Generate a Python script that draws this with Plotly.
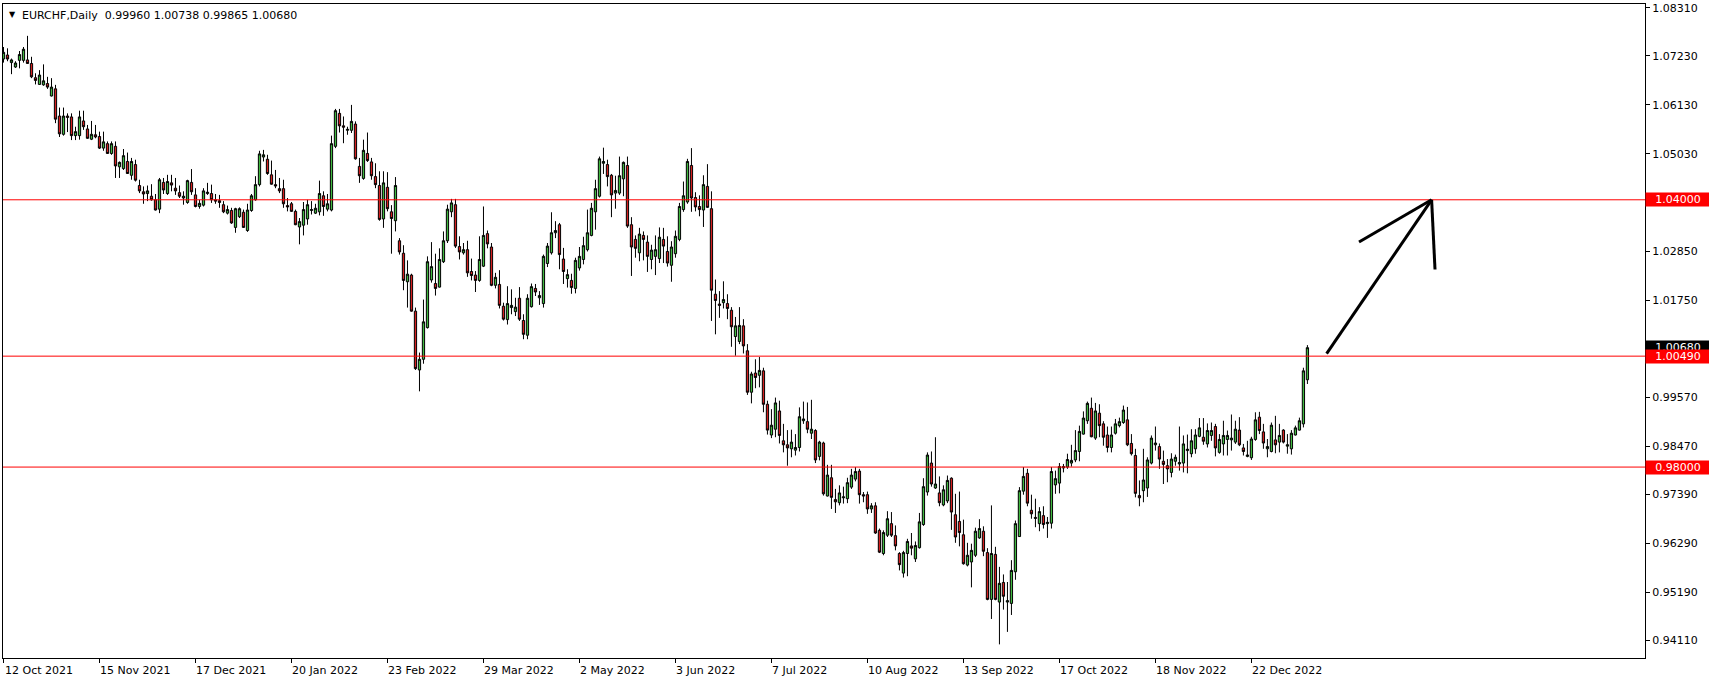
import plotly.graph_objects as go

# ---- data (EURCHF daily, bar index 0..326) ----
opens = [1.0716,1.0725,1.0708,1.0698,1.0713,1.0713,1.0714,1.0706,1.0674,1.0659,1.0658,1.0661,1.0633,1.0649,1.0588,1.0547,1.0588,1.0586,1.0544,1.0544,
1.0577,1.0559,1.0536,1.0546,1.0542,1.0516,1.0526,1.0504,1.0520,1.0474,1.0470,1.0486,1.0455,1.0479,1.0432,1.0418,1.0414,1.0408,1.0400,1.0379,
1.0439,1.0414,1.0438,1.0426,1.0416,1.0404,1.0394,1.0439,1.0411,1.0385,1.0388,1.0414,1.0414,1.0400,1.0398,1.0389,1.0370,1.0376,1.0338,1.0362,
1.0372,1.0331,1.0376,1.0400,1.0434,1.0496,1.0491,1.0456,1.0434,1.0425,1.0425,1.0387,1.0391,1.0374,1.0339,1.0343,1.0357,1.0376,1.0370,1.0373,
1.0409,1.0379,1.0377,1.0520,1.0594,1.0566,1.0556,1.0556,1.0570,1.0475,1.0448,1.0504,1.0485,1.0452,1.0432,1.0357,1.0428,1.0373,1.0353,1.0308,
1.0280,1.0216,1.0231,1.0150,1.0018,1.0042,1.0113,1.0220,1.0212,1.0204,1.0261,1.0308,1.0373,1.0389,1.0295,1.0281,1.0288,1.0239,1.0231,1.0219,
1.0251,1.0324,1.0294,1.0208,1.0210,1.0161,1.0131,1.0158,1.0149,1.0179,1.0129,1.0096,1.0160,1.0201,1.0180,1.0167,1.0257,1.0281,1.0326,1.0344,
1.0267,1.0223,1.0219,1.0201,1.0247,1.0266,1.0288,1.0320,1.0373,1.0408,1.0482,1.0479,1.0455,1.0415,1.0415,1.0447,1.0477,1.0344,1.0311,1.0281,
1.0320,1.0305,1.0266,1.0273,1.0268,1.0311,1.0284,1.0253,1.0279,1.0311,1.0378,1.0395,1.0477,1.0405,1.0385,1.0377,1.0430,1.0380,1.0188,1.0166,
1.0169,1.0167,1.0152,1.0093,1.0082,1.0117,1.0061,0.9968,1.0011,1.0006,1.0016,0.9941,0.9872,0.9885,0.9926,0.9859,0.9850,0.9841,0.9838,0.9844,
0.9904,0.9902,0.9876,0.9882,0.9824,0.9854,0.9735,0.9776,0.9727,0.9720,0.9731,0.9729,0.9755,0.9773,0.9791,0.9738,0.9738,0.9706,0.9713,0.9658,
0.9606,0.9647,0.9673,0.9646,0.9606,0.9562,0.9606,0.9623,0.9594,0.9619,0.9671,0.9744,0.9809,0.9753,0.9742,0.9715,0.9724,0.9775,0.9693,0.9678,
0.9648,0.9580,0.9587,0.9602,0.9641,0.9656,0.9608,0.9503,0.9604,0.9497,0.9541,0.9497,0.9494,0.9565,0.9644,0.9746,0.9786,0.9703,0.9687,0.9673,
0.9691,0.9673,0.9674,0.9760,0.9764,0.9798,0.9800,0.9809,0.9816,0.9835,0.9874,0.9904,0.9932,0.9865,0.9921,0.9897,0.9872,0.9844,0.9876,0.9893,
0.9900,0.9906,0.9853,0.9826,0.9736,0.9747,0.9753,0.9809,0.9850,0.9846,0.9813,0.9803,0.9788,0.9813,0.9807,0.9809,0.9837,0.9830,0.9841,0.9869,
0.9867,0.9852,0.9871,0.9891,0.9833,0.9852,0.9862,0.9861,0.9856,0.9883,0.9843,0.9824,0.9821,0.9862,0.9912,0.9879,0.9841,0.9835,0.9861,0.9856,
0.9883,0.9847,0.9841,0.9872,0.9883,0.9897,0.99960]
highs = [1.0743,1.0740,1.0717,1.0711,1.0734,1.0743,1.0768,1.0721,1.0684,1.0691,1.0704,1.0676,1.0673,1.0658,1.0607,1.0607,1.0594,1.0594,1.0564,1.0600,
1.0600,1.0568,1.0577,1.0568,1.0553,1.0553,1.0531,1.0531,1.0531,1.0486,1.0514,1.0506,1.0494,1.0490,1.0445,1.0430,1.0432,1.0435,1.0413,1.0449,
1.0449,1.0456,1.0456,1.0449,1.0432,1.0419,1.0445,1.0469,1.0426,1.0400,1.0426,1.0438,1.0434,1.0413,1.0411,1.0397,1.0387,1.0382,1.0382,1.0383,
1.0378,1.0391,1.0413,1.0453,1.0510,1.0512,1.0501,1.0488,1.0467,1.0449,1.0445,1.0404,1.0395,1.0378,1.0359,1.0395,1.0400,1.0397,1.0391,1.0443,
1.0419,1.0413,1.0544,1.0604,1.0604,1.0587,1.0564,1.0613,1.0576,1.0494,1.0535,1.0551,1.0494,1.0482,1.0464,1.0464,1.0462,1.0388,1.0451,1.0314,
1.0298,1.0264,1.0234,1.0158,1.0057,1.0176,1.0273,1.0305,1.0279,1.0291,1.0329,1.0389,1.0402,1.0402,1.0318,1.0303,1.0308,1.0268,1.0240,1.0318,
1.0385,1.0331,1.0303,1.0236,1.0242,1.0169,1.0206,1.0199,1.0180,1.0204,1.0143,1.0188,1.0212,1.0211,1.0195,1.0277,1.0303,1.0372,1.0352,1.0348,
1.0292,1.0244,1.0234,1.0270,1.0294,1.0317,1.0378,1.0393,1.0445,1.0497,1.0517,1.0490,1.0458,1.0454,1.0497,1.0486,1.0497,1.0361,1.0320,1.0337,
1.0329,1.0320,1.0299,1.0320,1.0338,1.0337,1.0318,1.0307,1.0331,1.0393,1.0441,1.0492,1.0516,1.0417,1.0410,1.0455,1.0480,1.0419,1.0221,1.0195,
1.0217,1.0188,1.0159,1.0137,1.0159,1.0132,1.0076,1.0014,1.0042,1.0047,1.0023,0.9949,0.9930,0.9956,0.9949,0.9897,0.9883,0.9884,0.9874,0.9934,
0.9947,0.9945,0.9951,0.9885,0.9859,0.9857,0.9805,0.9805,0.9751,0.9759,0.9756,0.9776,0.9796,0.9800,0.9796,0.9744,0.9745,0.9719,0.9721,0.9662,
0.9658,0.9701,0.9699,0.9669,0.9609,0.9612,0.9639,0.9652,0.9633,0.9697,0.9775,0.9833,0.9835,0.9867,0.9779,0.9759,0.9781,0.9777,0.9740,0.9745,
0.9682,0.9630,0.9628,0.9664,0.9683,0.9667,0.9618,0.9714,0.9621,0.9576,0.9559,0.9542,0.9591,0.9680,0.9755,0.9800,0.9796,0.9738,0.9729,0.9710,
0.9712,0.9688,0.9800,0.9792,0.9809,0.9807,0.9830,0.9850,0.9883,0.9893,0.9925,0.9947,0.9956,0.9944,0.9941,0.9903,0.9891,0.9891,0.9908,0.9911,
0.9938,0.9935,0.9874,0.9841,0.9770,0.9841,0.9822,0.9871,0.9891,0.9853,0.9837,0.9818,0.9831,0.9828,0.9891,0.9871,0.9873,0.9885,0.9885,0.9910,
0.9910,0.9898,0.9900,0.9897,0.9874,0.9904,0.9882,0.9918,0.9904,0.9912,0.9852,0.9859,0.9868,0.9923,0.9924,0.9897,0.9863,0.9900,0.9915,0.9897,
0.9885,0.9874,0.9883,0.9893,0.9911,1.0023,1.00738]
lows = [1.0708,1.0711,1.0682,1.0696,1.0695,1.0708,1.0706,1.0673,1.0659,1.0658,1.0656,1.0649,1.0632,1.0572,1.0541,1.0544,1.0552,1.0534,1.0534,1.0535,
1.0557,1.0537,1.0534,1.0538,1.0514,1.0510,1.0503,1.0501,1.0449,1.0449,1.0467,1.0458,1.0445,1.0441,1.0415,1.0391,1.0397,1.0398,1.0376,1.0370,
1.0413,1.0411,1.0419,1.0411,1.0404,1.0389,1.0391,1.0411,1.0383,1.0380,1.0385,1.0411,1.0393,1.0391,1.0382,1.0370,1.0367,1.0346,1.0326,1.0359,
1.0337,1.0328,1.0373,1.0398,1.0430,1.0486,1.0456,1.0434,1.0426,1.0415,1.0382,1.0374,1.0373,1.0343,1.0300,1.0320,1.0344,1.0367,1.0368,1.0365,
1.0364,1.0374,1.0374,1.0516,1.0551,1.0527,1.0546,1.0550,1.0490,1.0438,1.0445,1.0485,1.0445,1.0426,1.0353,1.0337,1.0374,1.0279,1.0329,1.0277,
1.0197,1.0158,1.0149,1.0018,0.9970,1.0032,1.0111,1.0214,1.0185,1.0203,1.0258,1.0303,1.0361,1.0292,1.0266,1.0277,1.0227,1.0219,1.0193,1.0216,
1.0249,1.0291,1.0206,1.0201,1.0156,1.0129,1.0120,1.0143,1.0139,1.0128,1.0087,1.0087,1.0158,1.0184,1.0164,1.0158,1.0249,1.0277,1.0314,1.0244,
1.0211,1.0203,1.0189,1.0190,1.0241,1.0255,1.0284,1.0318,1.0333,1.0405,1.0458,1.0430,1.0361,1.0380,1.0411,1.0408,1.0337,1.0229,1.0270,1.0262,
1.0264,1.0238,1.0244,1.0231,1.0258,1.0258,1.0250,1.0216,1.0270,1.0307,1.0373,1.0391,1.0373,1.0374,1.0363,1.0339,1.0382,1.0128,1.0098,1.0135,
1.0156,1.0132,1.0070,1.0050,1.0076,1.0055,0.9962,0.9943,0.9977,0.9979,0.9923,0.9873,0.9865,0.9867,0.9853,0.9833,0.9803,0.9822,0.9826,0.9835,
0.9897,0.9876,0.9863,0.9809,0.9815,0.9736,0.9734,0.9706,0.9697,0.9714,0.9718,0.9719,0.9751,0.9768,0.9718,0.9721,0.9695,0.9697,0.9650,0.9607,
0.9602,0.9643,0.9643,0.9613,0.9568,0.9552,0.9555,0.9602,0.9587,0.9617,0.9668,0.9736,0.9756,0.9751,0.9712,0.9712,0.9719,0.9659,0.9630,0.9622,
0.9581,0.9577,0.9530,0.9598,0.9639,0.9600,0.9501,0.9459,0.9501,0.9402,0.9480,0.9430,0.9468,0.9547,0.9643,0.9738,0.9712,0.9684,0.9665,0.9656,
0.9662,0.9641,0.9662,0.9740,0.9741,0.9788,0.9796,0.9801,0.9811,0.9813,0.9873,0.9897,0.9867,0.9861,0.9867,0.9848,0.9833,0.9833,0.9873,0.9889,
0.9897,0.9847,0.9826,0.9732,0.9712,0.9721,0.9733,0.9806,0.9837,0.9796,0.9762,0.9766,0.9777,0.9803,0.9792,0.9788,0.9786,0.9822,0.9830,0.9867,
0.9850,0.9844,0.9859,0.9824,0.9830,0.9826,0.9826,0.9837,0.9852,0.9847,0.9826,0.9822,0.9816,0.9859,0.9874,0.9841,0.9822,0.9833,0.9831,0.9833,
0.9853,0.9830,0.9828,0.9871,0.9882,0.9889,0.99865]
closes = [1.0731,1.0716,1.0714,1.0707,1.0726,1.0738,1.0706,1.0676,1.0668,1.0680,1.0667,1.0653,1.0653,1.0581,1.0548,1.0588,1.0585,1.0544,1.0553,1.0586,
1.0564,1.0538,1.0547,1.0541,1.0516,1.0530,1.0504,1.0526,1.0476,1.0484,1.0499,1.0459,1.0486,1.0444,1.0420,1.0413,1.0420,1.0400,1.0377,1.0445,
1.0422,1.0441,1.0433,1.0420,1.0408,1.0408,1.0443,1.0418,1.0385,1.0392,1.0420,1.0417,1.0400,1.0397,1.0394,1.0373,1.0378,1.0348,1.0380,1.0380,
1.0338,1.0377,1.0409,1.0434,1.0503,1.0501,1.0459,1.0435,1.0431,1.0420,1.0391,1.0384,1.0374,1.0344,1.0351,1.0378,1.0389,1.0378,1.0381,1.0414,
1.0385,1.0391,1.0526,1.0600,1.0566,1.0563,1.0558,1.0576,1.0492,1.0454,1.0511,1.0488,1.0454,1.0434,1.0356,1.0438,1.0380,1.0358,1.0432,1.0283,
1.0219,1.0233,1.0150,1.0021,1.0042,1.0126,1.0261,1.0250,1.0201,1.0266,1.0308,1.0379,1.0393,1.0296,1.0283,1.0288,1.0236,1.0230,1.0219,1.0266,
1.0320,1.0301,1.0208,1.0226,1.0163,1.0132,1.0167,1.0163,1.0159,1.0132,1.0098,1.0179,1.0205,1.0193,1.0185,1.0273,1.0296,1.0326,1.0331,1.0277,
1.0239,1.0232,1.0203,1.0264,1.0273,1.0297,1.0326,1.0381,1.0425,1.0492,1.0486,1.0452,1.0411,1.0421,1.0454,1.0484,1.0341,1.0294,1.0291,1.0323,
1.0311,1.0273,1.0287,1.0288,1.0316,1.0296,1.0258,1.0294,1.0318,1.0385,1.0409,1.0486,1.0404,1.0384,1.0378,1.0434,1.0383,1.0197,1.0174,1.0163,
1.0176,1.0156,1.0115,1.0117,1.0118,1.0072,0.9968,1.0009,1.0001,1.0017,0.9941,0.9883,0.9894,0.9944,0.9871,0.9850,0.9843,0.9856,0.9844,0.9913,
0.9908,0.9885,0.9885,0.9816,0.9856,0.9740,0.9782,0.9732,0.9722,0.9742,0.9733,0.9765,0.9782,0.9790,0.9738,0.9735,0.9706,0.9713,0.9652,0.9609,
0.9653,0.9684,0.9647,0.9623,0.9581,0.9608,0.9633,0.9618,0.9624,0.9677,0.9756,0.9827,0.9762,0.9762,0.9720,0.9749,0.9770,0.9699,0.9643,0.9653,
0.9583,0.9602,0.9613,0.9656,0.9662,0.9611,0.9503,0.9606,0.9503,0.9539,0.9510,0.9500,0.9568,0.9673,0.9747,0.9779,0.9719,0.9695,0.9685,0.9700,
0.9671,0.9676,0.9790,0.9774,0.9801,0.9801,0.9817,0.9815,0.9837,0.9880,0.9910,0.9943,0.9868,0.9926,0.9893,0.9867,0.9844,0.9872,0.9897,0.9902,
0.9928,0.9850,0.9830,0.9741,0.9731,0.9771,0.9816,0.9865,0.9854,0.9818,0.9806,0.9796,0.9818,0.9822,0.9810,0.9852,0.9840,0.9859,0.9872,0.9888,
0.9858,0.9882,0.9882,0.9843,0.9862,0.9871,0.9871,0.9865,0.9885,0.9850,0.9835,0.9827,0.9863,0.9906,0.9882,0.9854,0.9846,0.9894,0.9850,0.9871,
0.9856,0.9850,0.9876,0.9888,0.9904,1.0016,1.00680]

bars = list(range(len(closes)))

date_tick_bars = [0, 24, 48, 72, 96, 120, 144, 168, 192, 216, 240, 264, 288, 312]
date_tick_labels = ["12 Oct 2021", "15 Nov 2021", "17 Dec 2021", "20 Jan 2022", "23 Feb 2022",
                    "29 Mar 2022", "2 May 2022", "3 Jun 2022", "7 Jul 2022", "10 Aug 2022",
                    "13 Sep 2022", "17 Oct 2022", "18 Nov 2022", "22 Dec 2022"]

price_ticks = [1.08310, 1.07230, 1.06130, 1.05030, 1.02850, 1.01750,
               0.99570, 0.98470, 0.97390, 0.96290, 0.95190, 0.94110]

levels = [1.04000, 1.00490, 0.98000]
last_price = 1.00680

# hand-drawn arrow (bar index, price)
arrow_shaft = [(330.8, 1.00546), (357.05, 1.04000)]
arrow_left = [(338.9, 1.03053), (357.05, 1.04000)]
arrow_right = [(357.05, 1.04000), (357.9, 1.02435)]

header = "EURCHF,Daily&nbsp;&nbsp;0.99960 1.00738 0.99865 1.00680"

FONT = "DejaVu Sans"
GREEN = "#40B840"
RED = "#D42020"

fig = go.Figure()
fig.add_trace(go.Candlestick(
    x=bars, open=opens, high=highs, low=lows, close=closes,
    increasing=dict(fillcolor=GREEN, line=dict(color="black", width=1)),
    decreasing=dict(fillcolor=RED, line=dict(color="black", width=1)),
    whiskerwidth=0, hoverinfo="skip", showlegend=False,
))

shapes = []
for lv in levels:
    shapes.append(dict(type="line", xref="paper", x0=0, x1=1, yref="y", y0=lv, y1=lv,
                       line=dict(color="#FF0000", width=1), layer="above"))
for seg in (arrow_shaft, arrow_left, arrow_right):
    (xa, ya), (xb, yb) = seg
    shapes.append(dict(type="line", xref="x", yref="y", x0=xa, y0=ya, x1=xb, y1=yb,
                       line=dict(color="black", width=3), layer="above"))

annotations = []
for b, lab in zip(date_tick_bars, date_tick_labels):
    annotations.append(dict(x=b, xref="x", y=0, yref="paper", text=lab, showarrow=False,
                            xanchor="left", yanchor="top", yshift=-4, xshift=-1,
                            font=dict(family=FONT, size=11, color="black")))

annotations.append(dict(x=1, xref="paper", y=last_price, yref="y",
                        text=f"{last_price:.5f}", showarrow=False, xanchor="left", yanchor="middle",
                        bgcolor="black", font=dict(family=FONT, size=11, color="white"),
                        width=62, height=11, borderpad=1, align="center"))
for lv in levels:
    annotations.append(dict(x=1, xref="paper", y=lv, yref="y", text=f"{lv:.5f}", showarrow=False,
                            xanchor="left", yanchor="middle", bgcolor="#FF0000",
                            font=dict(family=FONT, size=11, color="white"),
                            width=62, height=11, borderpad=1, align="center"))

annotations.append(dict(x=0, xref="paper", y=1, yref="paper", text="▼", showarrow=False,
                        xanchor="left", yanchor="top", xshift=4, yshift=-4,
                        font=dict(family=FONT, size=8, color="black")))
annotations.append(dict(x=0, xref="paper", y=1, yref="paper", text=header, showarrow=False,
                        xanchor="left", yanchor="top", xshift=17, yshift=-3,
                        font=dict(family=FONT, size=11, color="black")))

fig.update_layout(
    width=1709, height=684,
    margin=dict(l=3, r=64, t=2, b=26),
    paper_bgcolor="white", plot_bgcolor="white",
    boxgap=0.25, boxgroupgap=0.25,
    shapes=shapes, annotations=annotations,
    showlegend=False, hovermode=False,
    xaxis=dict(range=[-0.125, 410.4], rangeslider=dict(visible=False), showgrid=False,
               zeroline=False, showline=True, linecolor="black", linewidth=1, mirror=True,
               tickvals=date_tick_bars, ticktext=[""] * len(date_tick_bars),
               ticks="outside", ticklen=4, tickcolor="black", fixedrange=True),
    yaxis=dict(range=[0.93714, 1.08395], side="right", showgrid=False, zeroline=False,
               showline=True, linecolor="black", linewidth=1, mirror=True,
               tickvals=price_ticks, ticktext=[f"{v:.5f}" for v in price_ticks],
               ticks="outside", ticklen=4, tickcolor="black", ticklabeloverflow="allow",
               tickfont=dict(family=FONT, size=11, color="black"), fixedrange=True),
)

fig.write_html(
    "out.html",
    config={"displayModeBar": False, "responsive": False},
    post_script="document.body.style.margin='0';document.body.style.padding='0';"
                "document.documentElement.style.overflow='hidden';",
)
